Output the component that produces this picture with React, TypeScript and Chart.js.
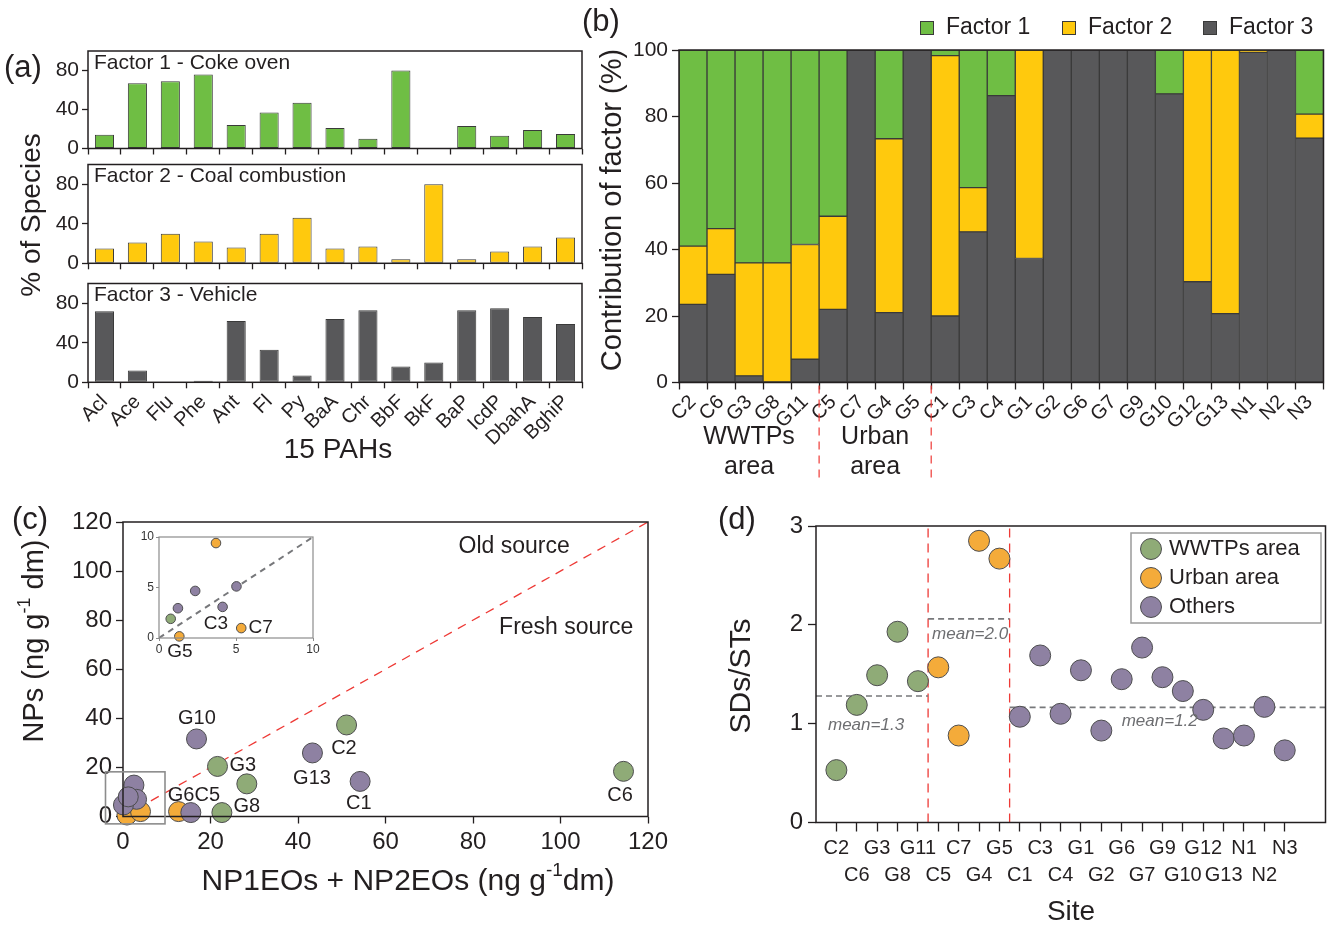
import React, { useEffect, useRef } from 'react';
import { Chart, registerables } from 'chart.js';

Chart.register(...registerables);

const W = 1337;
const H = 929;
const SANS = "'Liberation Sans', Arial, Helvetica, sans-serif";
const INK = '#231f20';
const BAR_EDGE = '#3a3a3a';
const GREEN = '#6fbe44';
const YELLOW = '#ffc90d';
const DARK = '#58585a';
const PT_GREEN = '#8fab77';
const PT_ORANGE = '#f4ab3a';
const PT_PURPLE = '#8e81a2';
const PT_EDGE = '#4d4d4f';
const RED = '#ee3a36';

// ---------------- Panel (a) ----------------
const pahNames = ['Acl', 'Ace', 'Flu', 'Phe', 'Ant', 'Fl', 'Py', 'BaA', 'Chr', 'BbF', 'BkF', 'BaP', 'IcdP', 'DbahA', 'BghiP'];
const factor1Species = [14, 67, 69, 76, 24, 37, 47, 21, 10, 80, 0, 23, 13, 19, 15];
const factor2Species = [15, 21, 30, 22, 16, 30, 46, 15, 17, 4, 80, 4, 12, 17, 26];
const factor3Species = [72, 12, 0, 1.5, 62, 33, 7, 64, 73, 16, 20, 73, 75, 66, 59];
const speciesLabelledTicks = [0, 40, 80];
const factorTitles = ['Factor 1 - Coke oven', 'Factor 2 - Coal combustion', 'Factor 3 - Vehicle'];

// ---------------- Panel (b) ----------------
const sites = ['C2', 'C6', 'G3', 'G8', 'G11', 'C5', 'C7', 'G4', 'G5', 'C1', 'C3', 'C4', 'G1', 'G2', 'G6', 'G7', 'G9', 'G10', 'G12', 'G13', 'N1', 'N2', 'N3'];
const factor3Contribution = [23.5, 32.5, 2, 0, 7, 22, 100, 21, 100, 20, 45.3, 86.3, 37.3, 100, 100, 100, 100, 86.8, 30.3, 20.7, 99.3, 100, 73.5];
const factor2Contribution = [17.5, 13.8, 34, 36, 34.5, 28, 0, 52.3, 0, 78.3, 13.3, 0, 62.7, 0, 0, 0, 0, 0, 69.7, 79.3, 0.7, 0, 7.2];
const factor1Contribution = [59, 53.7, 64, 64, 58.5, 50, 0, 26.7, 0, 1.7, 41.4, 13.7, 0, 0, 0, 0, 0, 13.2, 0, 0, 0, 0, 19.3];
const factorNames = ['Factor 1', 'Factor 2', 'Factor 3'];
const regionNames = [['WWTPs', 'area'], ['Urban', 'area']];
const regionFirst = [0, 5];
const regionLast = [4, 8];

// ---------------- Panel (c) ----------------
const wwtpsEOs = [51.1, 21.6, 28.3, 114.4, 22.6];
const wwtpsNPs = [37.3, 20.4, 13.3, 18.4, 1.6];
const urbanEOs = [12.7, 0.9, 4.0];
const urbanNPs = [2.0, 0.6, 2.0];
const othersEOs = [16.8, 43.3, 54.2, 15.5, 2.5, 3.1, 0.1, 1.2];
const othersNPs = [31.6, 25.9, 14.3, 1.6, 12.8, 7.0, 4.7, 8.0];
const pointLabels = ['G10', 'C2', 'G3', 'G13', 'C1', 'C6', 'G6C5', 'G8'];
const pointLabelX = [16.9, 50.5, 27.4, 43.2, 53.9, 113.6, 16.2, 28.3];
const pointLabelY = [40.0, 27.8, 20.9, 15.6, 5.5, 8.7, 8.7, 3.9];
const sourceLabels = ['Old source', 'Fresh source'];
const sourceLabelX = [89.4, 101.3];
const sourceLabelY = [109.8, 77.0];

const insetWwtpsEOs = [0.76];
const insetWwtpsNPs = [1.9];
const insetUrbanEOs = [3.7, 1.32, 5.34];
const insetUrbanNPs = [9.4, 0.16, 0.98];
const insetOthersEOs = [2.35, 5.03, 1.23, 4.13];
const insetOthersNPs = [4.66, 5.11, 2.95, 3.08];
const insetLabels = ['G5', 'C3', 'C7'];
const insetLabelX = [1.36, 3.7, 6.6];
const insetLabelY = [-1.4, 1.4, 1.0];

// ---------------- Panel (d) ----------------
const sdRatio = [0.53, 1.19, 1.49, 1.93, 1.43, 1.57, 0.88, 2.85, 2.67, 1.07, 1.69, 1.10, 1.54, 0.93, 1.45, 1.77, 1.47, 1.33, 1.14, 0.85, 0.88, 1.17, 0.73];
const siteGroup = [0, 0, 0, 0, 0, 1, 1, 1, 1, 2, 2, 2, 2, 2, 2, 2, 2, 2, 2, 2, 2, 2, 2];
const groupNames = ['WWTPs area', 'Urban area', 'Others'];
const groupMeans = [1.28, 2.06, 1.165];
const meanLabels = ['mean=1.3', 'mean=2.0', 'mean=1.2'];

type Area = { l: number; t: number; r: number; b: number };

const AREA_A = [
  { l: 88, t: 51, r: 582, b: 148.5 },
  { l: 88, t: 164.5, r: 582, b: 263.3 },
  { l: 88, t: 283.5, r: 582, b: 382.3 },
];
const AREA_B: Area = { l: 679, t: 50, r: 1323.5, b: 382.5 };
const AREA_C: Area = { l: 123, t: 522, r: 648, b: 816.5 };
const AREA_INSET: Area = { l: 159, t: 537, r: 313, b: 638 };
const AREA_D: Area = { l: 816, t: 526, r: 1329, b: 822.5 };

function baseOptions(area: Area) {
  return {
    responsive: false,
    animation: false as const,
    devicePixelRatio: 1,
    events: [] as any[],
    layout: { padding: { left: 0, top: area.t, right: W - area.r, bottom: 0 } },
    plugins: { legend: { display: false }, tooltip: { enabled: false }, title: { display: false } },
  };
}

function tickGrid(len: number, color = INK, width = 1.3) {
  return { display: true, drawOnChartArea: false, drawTicks: true, tickLength: len, tickColor: color, tickWidth: width };
}

function framePlugin(color = INK, width = 1.5) {
  return {
    id: 'frameBox',
    afterDraw(chart: any) {
      const { ctx, chartArea: a } = chart;
      ctx.save();
      ctx.strokeStyle = color;
      ctx.lineWidth = width;
      ctx.strokeRect(a.left, a.top, a.right - a.left, a.bottom - a.top);
      ctx.restore();
    },
  };
}

function textPlugin(draw: (ctx: CanvasRenderingContext2D, chart: any) => void) {
  return {
    id: 'textLayer',
    afterDraw(chart: any) {
      const ctx = chart.ctx as CanvasRenderingContext2D;
      ctx.save();
      draw(ctx, chart);
      ctx.restore();
    },
  };
}

function drawText(
  ctx: CanvasRenderingContext2D,
  t: string,
  x: number,
  y: number,
  size: number,
  opts: { align?: CanvasTextAlign; color?: string; rotate?: boolean; italic?: boolean } = {}
) {
  ctx.save();
  ctx.font = `${opts.italic ? 'italic ' : ''}${size}px ${SANS}`;
  ctx.fillStyle = opts.color || INK;
  ctx.textAlign = opts.align || 'center';
  ctx.textBaseline = 'middle';
  ctx.translate(x, y);
  if (opts.rotate) ctx.rotate(-Math.PI / 2);
  ctx.fillText(t, 0, 0);
  ctx.restore();
}

type Seg = { t: string; sup?: boolean };
function drawRich(ctx: CanvasRenderingContext2D, segs: Seg[], cx: number, cy: number, size: number, rotate = false) {
  const fontN = `${size}px ${SANS}`;
  const fontS = `${Math.round(size * 0.62)}px ${SANS}`;
  let total = 0;
  const widths = segs.map((s) => {
    ctx.font = s.sup ? fontS : fontN;
    const w = ctx.measureText(s.t).width;
    total += w;
    return w;
  });
  ctx.save();
  ctx.translate(cx, cy);
  if (rotate) ctx.rotate(-Math.PI / 2);
  ctx.textBaseline = 'middle';
  ctx.textAlign = 'left';
  ctx.fillStyle = INK;
  let x = -total / 2;
  segs.forEach((s, i) => {
    ctx.font = s.sup ? fontS : fontN;
    ctx.fillText(s.t, x, s.sup ? -size * 0.36 : 0);
    x += widths[i];
  });
  ctx.restore();
}

function speciesConfig(index: number, values: number[], color: string, showLabels: boolean): any {
  const area = AREA_A[index];
  return {
    type: 'bar',
    data: {
      labels: pahNames,
      datasets: [
        {
          label: factorTitles[index],
          data: values,
          backgroundColor: color,
          borderColor: BAR_EDGE,
          borderWidth: 1,
          borderSkipped: false,
          barPercentage: 0.58,
          categoryPercentage: 1,
        },
      ],
    },
    options: {
      ...baseOptions(area),
      scales: {
        x: {
          offset: true,
          afterFit: (s: any) => { s.height = H - area.b; },
          grid: { ...tickGrid(6), offset: true },
          border: { display: false },
          ticks: { display: showLabels, autoSkip: false, minRotation: 45, maxRotation: 45, padding: 2, color: INK, font: { family: SANS, size: 20 } },
        },
        y: {
          min: 0,
          max: 100,
          afterFit: (s: any) => { s.width = area.l; },
          grid: tickGrid(6),
          border: { display: false },
          ticks: {
            stepSize: 20,
            padding: 3,
            color: INK,
            font: { family: SANS, size: 21 },
            callback: (v: any) => (speciesLabelledTicks.includes(Number(v)) ? String(v) : ''),
          },
        },
      },
    },
    plugins: [
      framePlugin(),
      textPlugin((ctx) => {
        drawText(ctx, factorTitles[index], 94, area.t + 12, 21, { align: 'left' });
        if (index === 2) {
          drawText(ctx, '(a)', 4, 68, 31, { align: 'left' });
          drawText(ctx, '% of Species', 32, 215, 28, { rotate: true });
          drawText(ctx, '15 PAHs', 338, 450, 28);
        }
      }),
    ],
  };
}

function contributionConfig(): any {
  const area = AREA_B;
  const base = { borderColor: BAR_EDGE, borderWidth: 1, borderSkipped: false, barPercentage: 1, categoryPercentage: 1 };
  const colors = [GREEN, YELLOW, DARK];
  return {
    type: 'bar',
    data: {
      labels: sites,
      datasets: [
        { label: factorNames[2], data: factor3Contribution, backgroundColor: DARK, ...base },
        { label: factorNames[1], data: factor2Contribution, backgroundColor: YELLOW, ...base },
        { label: factorNames[0], data: factor1Contribution, backgroundColor: GREEN, ...base },
      ],
    },
    options: {
      ...baseOptions(area),
      scales: {
        x: {
          stacked: true,
          offset: true,
          afterFit: (s: any) => { s.height = H - area.b; },
          grid: { ...tickGrid(7), offset: true },
          border: { display: false },
          ticks: { autoSkip: false, minRotation: 45, maxRotation: 45, padding: 1, color: INK, font: { family: SANS, size: 20 } },
        },
        y: {
          stacked: true,
          min: 0,
          max: 100,
          afterFit: (s: any) => { s.width = area.l; },
          grid: tickGrid(7),
          border: { display: false },
          ticks: { stepSize: 20, padding: 4, color: INK, font: { family: SANS, size: 21 } },
        },
      },
    },
    plugins: [
      framePlugin(),
      textPlugin((ctx, chart) => {
        const xs = chart.scales.x;
        drawText(ctx, '(b)', 582, 22, 31, { align: 'left' });
        drawText(ctx, 'Contribution of factor (%)', 613, 210, 29, { rotate: true });
        // legend
        const legendX = [920, 1062, 1203];
        factorNames.forEach((name, i) => {
          ctx.fillStyle = colors[i];
          ctx.fillRect(legendX[i], 21, 14, 14);
          ctx.strokeStyle = BAR_EDGE;
          ctx.lineWidth = 1;
          ctx.strokeRect(legendX[i] + 0.5, 21.5, 13, 13);
          drawText(ctx, name, legendX[i] + 26, 28, 23, { align: 'left' });
        });
        // region labels
        regionNames.forEach((lines, i) => {
          const cx = (xs.getPixelForValue(regionFirst[i]) + xs.getPixelForValue(regionLast[i])) / 2;
          drawText(ctx, lines[0], cx, 437, 25);
          drawText(ctx, lines[1], cx, 467, 25);
          const bx = (xs.getPixelForValue(regionLast[i]) + xs.getPixelForValue(regionLast[i] + 1)) / 2;
          ctx.save();
          ctx.strokeStyle = RED;
          ctx.lineWidth = 1.2;
          ctx.setLineDash([8, 6]);
          ctx.beginPath();
          ctx.moveTo(bx, area.b + 3);
          ctx.lineTo(bx, 482);
          ctx.stroke();
          ctx.restore();
        });
      }),
    ],
  };
}

function pts(xs: number[], ys: number[]) {
  return xs.map((x, i) => ({ x, y: ys[i] }));
}

function scatterSet(label: string, data: any[], color: string, r: number): any {
  return {
    type: 'scatter',
    label,
    data,
    backgroundColor: color,
    borderColor: PT_EDGE,
    borderWidth: 1,
    pointRadius: r,
    pointHoverRadius: r,
    showLine: false,
    clip: false,
  };
}

function lineSet(data: any[], color: string, dash: number[], width: number): any {
  return {
    type: 'scatter',
    data,
    showLine: true,
    borderColor: color,
    borderWidth: width,
    borderDash: dash,
    pointRadius: 0,
    fill: false,
  };
}

function npConfig(): any {
  const area = AREA_C;
  return {
    type: 'scatter',
    data: {
      datasets: [
        scatterSet('Others', pts(othersEOs, othersNPs), PT_PURPLE, 10),
        scatterSet('Urban area', pts(urbanEOs, urbanNPs), PT_ORANGE, 10),
        scatterSet('WWTPs area', pts(wwtpsEOs, wwtpsNPs), PT_GREEN, 10),
        lineSet([{ x: 0, y: 0 }, { x: 120, y: 120 }], RED, [9, 7], 1.3),
      ],
    },
    options: {
      ...baseOptions(area),
      scales: {
        x: {
          type: 'linear',
          min: 0,
          max: 120,
          afterFit: (s: any) => { s.height = H - area.b; },
          grid: tickGrid(7),
          border: { display: false },
          ticks: { stepSize: 20, padding: 4, color: INK, font: { family: SANS, size: 24 } },
        },
        y: {
          type: 'linear',
          min: 0,
          max: 120,
          afterFit: (s: any) => { s.width = area.l; },
          grid: tickGrid(7),
          border: { display: false },
          ticks: { stepSize: 20, padding: 4, color: INK, font: { family: SANS, size: 24 } },
        },
      },
    },
    plugins: [
      framePlugin(),
      textPlugin((ctx, chart) => {
        const xs = chart.scales.x;
        const ys = chart.scales.y;
        drawText(ctx, '(c)', 12, 520, 31, { align: 'left' });
        drawRich(ctx, [{ t: 'NPs (ng g' }, { t: '-1', sup: true }, { t: ' dm)' }], 35, 641, 29, true);
        drawRich(ctx, [{ t: 'NP1EOs + NP2EOs (ng g' }, { t: '-1', sup: true }, { t: 'dm)' }], 408, 882, 30);
        pointLabels.forEach((t, i) => drawText(ctx, t, xs.getPixelForValue(pointLabelX[i]), ys.getPixelForValue(pointLabelY[i]), 20));
        sourceLabels.forEach((t, i) => drawText(ctx, t, xs.getPixelForValue(sourceLabelX[i]), ys.getPixelForValue(sourceLabelY[i]), 23));
        // zoom window marker
        const x0 = xs.getPixelForValue(-4);
        const x1 = xs.getPixelForValue(9.6);
        const y0 = ys.getPixelForValue(18.2);
        const y1 = ys.getPixelForValue(-3);
        ctx.strokeStyle = '#8c8c8c';
        ctx.lineWidth = 1.6;
        ctx.strokeRect(x0, y0, x1 - x0, y1 - y0);
      }),
    ],
  };
}

function insetConfig(): any {
  const area = AREA_INSET;
  const axisFont = { family: SANS, size: 12 };
  return {
    type: 'scatter',
    data: {
      datasets: [
        scatterSet('Others', pts(insetOthersEOs, insetOthersNPs), PT_PURPLE, 4.8),
        scatterSet('Urban area', pts(insetUrbanEOs, insetUrbanNPs), PT_ORANGE, 4.8),
        scatterSet('WWTPs area', pts(insetWwtpsEOs, insetWwtpsNPs), PT_GREEN, 4.8),
        lineSet([{ x: 0, y: 0 }, { x: 10, y: 10 }], '#77787b', [6, 5], 2),
      ],
    },
    options: {
      ...baseOptions(area),
      scales: {
        x: {
          type: 'linear',
          min: 0,
          max: 10,
          afterFit: (s: any) => { s.height = H - area.b; },
          grid: tickGrid(3, '#8c8c8c', 1),
          border: { display: false },
          ticks: { stepSize: 5, padding: 1, color: '#333', font: axisFont },
        },
        y: {
          type: 'linear',
          min: 0,
          max: 10,
          afterFit: (s: any) => { s.width = area.l; },
          grid: tickGrid(3, '#8c8c8c', 1),
          border: { display: false },
          ticks: { stepSize: 5, padding: 2, color: '#333', font: axisFont },
        },
      },
    },
    plugins: [
      framePlugin('#8c8c8c', 1.2),
      textPlugin((ctx, chart) => {
        const xs = chart.scales.x;
        const ys = chart.scales.y;
        insetLabels.forEach((t, i) => drawText(ctx, t, xs.getPixelForValue(insetLabelX[i]), ys.getPixelForValue(insetLabelY[i]), 19));
      }),
    ],
  };
}

function ratioConfig(): any {
  const area = AREA_D;
  const groupColors = [PT_GREEN, PT_ORANGE, PT_PURPLE];
  const xMin = -1;
  const xMax = 24;
  const firstIdx = groupNames.map((_, g) => siteGroup.indexOf(g));
  const lastIdx = groupNames.map((_, g) => siteGroup.lastIndexOf(g));
  const segStart = groupNames.map((_, g) => (g === 0 ? xMin : firstIdx[g] - 0.5));
  const segEnd = groupNames.map((_, g) => (g === groupNames.length - 1 ? xMax : lastIdx[g] + 0.5));
  const pointSets = groupNames.map((name, g) =>
    scatterSet(
      name,
      sdRatio.map((y, i) => ({ x: i, y })).filter((_, i) => siteGroup[i] === g),
      groupColors[g],
      10.5
    )
  );
  const meanSets = groupNames.map((_, g) =>
    lineSet([{ x: segStart[g], y: groupMeans[g] }, { x: segEnd[g], y: groupMeans[g] }], '#77787b', [6, 4], 1.6)
  );
  const dividerSets = [0, 1].map((g) =>
    lineSet([{ x: lastIdx[g] + 0.5, y: 0 }, { x: lastIdx[g] + 0.5, y: 3 }], RED, [9, 6], 1.3)
  );
  const meanLabelDx = [12, 4, 0];
  const meanLabelDy = [29, 15, 14];
  const meanLabelAt = [xMin, lastIdx[0] + 0.5, 14.0];
  return {
    type: 'scatter',
    data: { datasets: [...pointSets, ...meanSets, ...dividerSets] },
    options: {
      ...baseOptions(area),
      scales: {
        x: {
          type: 'linear',
          min: xMin,
          max: xMax,
          afterFit: (s: any) => { s.height = H - area.b; },
          afterBuildTicks: (axis: any) => { axis.ticks = sites.map((_, i) => ({ value: i })); },
          grid: tickGrid(9),
          border: { display: false },
          ticks: {
            autoSkip: false,
            minRotation: 0,
            maxRotation: 0,
            padding: 3,
            color: INK,
            font: { family: SANS, size: 20, lineHeight: 1.35 },
            callback: (v: any) => {
              const i = Number(v);
              return i % 2 === 0 ? [sites[i], ''] : ['', sites[i]];
            },
          },
        },
        y: {
          type: 'linear',
          min: 0,
          max: 3,
          afterFit: (s: any) => { s.width = area.l; },
          grid: tickGrid(8),
          border: { display: false },
          ticks: { stepSize: 1, padding: 5, color: INK, font: { family: SANS, size: 24 } },
        },
      },
    },
    plugins: [
      framePlugin(),
      textPlugin((ctx, chart) => {
        const xs = chart.scales.x;
        const ys = chart.scales.y;
        drawText(ctx, '(d)', 718, 520, 31, { align: 'left' });
        drawText(ctx, 'SDs/STs', 742, 676, 30, { rotate: true });
        drawText(ctx, 'Site', 1071, 912, 28);
        meanLabels.forEach((t, g) => {
          drawText(ctx, t, xs.getPixelForValue(meanLabelAt[g]) + meanLabelDx[g], ys.getPixelForValue(groupMeans[g]) + meanLabelDy[g], 17, {
            align: 'left',
            color: '#6d6e71',
            italic: true,
          });
        });
        // legend box
        const lx = 1131;
        const ly = 533;
        ctx.strokeStyle = '#9a9a9a';
        ctx.lineWidth = 1.5;
        ctx.strokeRect(lx, ly, 190, 90);
        groupNames.forEach((name, g) => {
          const cy = ly + 16 + g * 29;
          ctx.beginPath();
          ctx.arc(lx + 20, cy, 10.5, 0, Math.PI * 2);
          ctx.fillStyle = groupColors[g];
          ctx.fill();
          ctx.strokeStyle = PT_EDGE;
          ctx.lineWidth = 1;
          ctx.stroke();
          drawText(ctx, name, lx + 38, cy, 22, { align: 'left' });
        });
      }),
    ],
  };
}

export default function App() {
  const r0 = useRef<HTMLCanvasElement>(null);
  const r1 = useRef<HTMLCanvasElement>(null);
  const r2 = useRef<HTMLCanvasElement>(null);
  const r3 = useRef<HTMLCanvasElement>(null);
  const r4 = useRef<HTMLCanvasElement>(null);
  const r5 = useRef<HTMLCanvasElement>(null);
  const r6 = useRef<HTMLCanvasElement>(null);
  const refs = [r0, r1, r2, r3, r4, r5, r6];

  useEffect(() => {
    const configs = [
      speciesConfig(0, factor1Species, GREEN, false),
      speciesConfig(1, factor2Species, YELLOW, false),
      speciesConfig(2, factor3Species, DARK, true),
      contributionConfig(),
      npConfig(),
      insetConfig(),
      ratioConfig(),
    ];
    const charts = configs.map((cfg, i) => new Chart(refs[i].current as HTMLCanvasElement, cfg));
    return () => charts.forEach((c) => c.destroy());
  }, []);

  return (
    <div style={{ position: 'fixed', left: 0, top: 0, width: W, height: H, background: '#ffffff', overflow: 'hidden' }}>
      {refs.map((r, i) => (
        <canvas key={i} ref={r} width={W} height={H} style={{ position: 'absolute', left: 0, top: 0, width: W, height: H }} />
      ))}
    </div>
  );
}
